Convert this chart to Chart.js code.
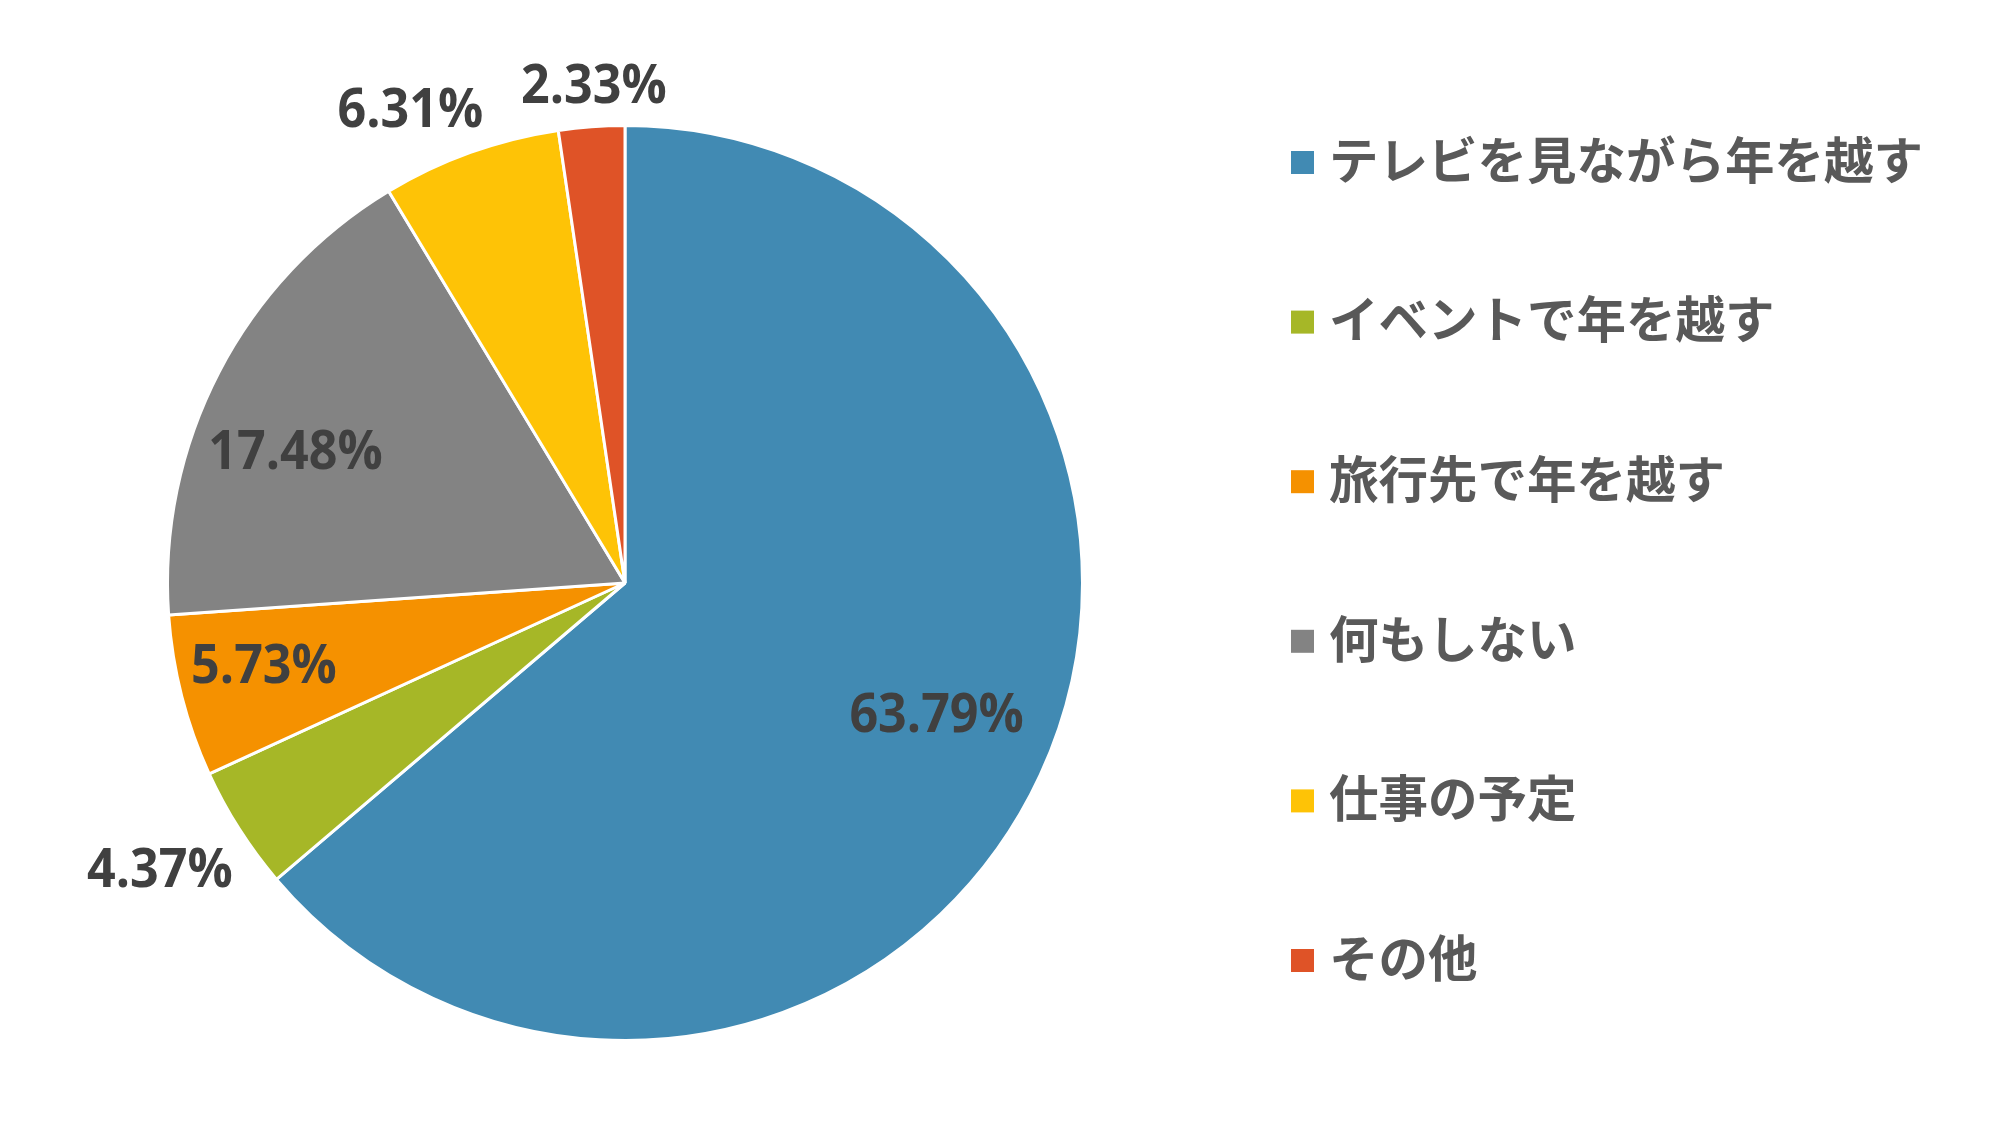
<!DOCTYPE html>
<html>
<head>
<meta charset="UTF-8">
<script src="https://cdn.jsdelivr.net/npm/chart.js@4.4.1/dist/chart.umd.min.js"></script>
<style>
body { margin: 0; background: #fff; }
#wrap { width: 2000px; height: 1125px; }
</style>
</head>
<body>
<div id="wrap"><canvas id="pieChart" width="2000" height="1125"></canvas></div>
<script>
// 年越しの過ごし方
var categories = ["テレビを見ながら年を越す", "イベントで年を越す", "旅行先で年を越す", "何もしない", "仕事の予定", "その他"];
var shares = [63.79, 4.37, 5.73, 17.48, 6.31, 2.33];
var sliceColors = ["#418AB3", "#A6B727", "#F59100", "#838383", "#FEC306", "#DF5327"];

// ラベル位置（半径に対する比率、角度の補正）
var labelRadius = [0.74, 1.195, 0.81, 0.775, 1.134, 1.087];
var labelShift = [-1.8, 0.8, 1.3, -5.8, -4.7, 0.6];

// パーセント表示
var percentLabel = {
	id : 'percentLabel',
	afterDatasetsDraw : function(chart) {
		var ctx = chart.ctx;
		var meta = chart.getDatasetMeta(0);
		ctx.save();
		ctx.font = 'bold 54px "Open Sans"';
		ctx.fillStyle = '#404040';
		ctx.textAlign = 'center';
		ctx.textBaseline = 'middle';
		meta.data.forEach(function(arc, i) {
			var p = arc.getProps([ 'x', 'y', 'startAngle', 'endAngle', 'outerRadius' ], true);
			var mid = (p.startAngle + p.endAngle) / 2 + labelShift[i] * Math.PI / 180;
			var r = p.outerRadius * labelRadius[i];
			ctx.save();
			ctx.translate(p.x + Math.cos(mid) * r, p.y + Math.sin(mid) * r + 1);
			ctx.scale(0.93, 1);
			ctx.fillText(shares[i].toFixed(2) + '%', 0, 0);
			ctx.restore();
		});
		ctx.restore();
	}
};

// 右側の凡例
var sideLegend = {
	id : 'sideLegend',
	afterDraw : function(chart) {
		var ctx = chart.ctx;
		ctx.save();
		ctx.font = 'bold 49.5px "Noto Sans CJK JP"';
		ctx.textBaseline = 'middle';
		chart.data.labels.forEach(function(text, i) {
			var y = 162 + i * 159.6;
			ctx.fillStyle = sliceColors[i];
			ctx.fillRect(1291, y - 11, 23, 23);
			ctx.fillStyle = '#595959';
			ctx.fillText(text, 1329, y - 2);
		});
		ctx.restore();
	}
};

var ctx = document.getElementById("pieChart");
var myPieChart = new Chart(ctx, {
	type : 'pie',
	data : {
		labels : categories,
		datasets : [ {
			data : shares,
			backgroundColor : sliceColors,
			borderColor : '#ffffff',
			borderWidth : 3
		} ]
	},
	options : {
		responsive : false,
		animation : false,
		layout : {
			padding : {
				left : 166,
				right : 916,
				top : 124,
				bottom : 83
			}
		},
		plugins : {
			legend : {
				display : false
			},
			tooltip : {
				enabled : false
			}
		}
	},
	plugins : [ percentLabel, sideLegend ]
});
</script>
</body>
</html>
